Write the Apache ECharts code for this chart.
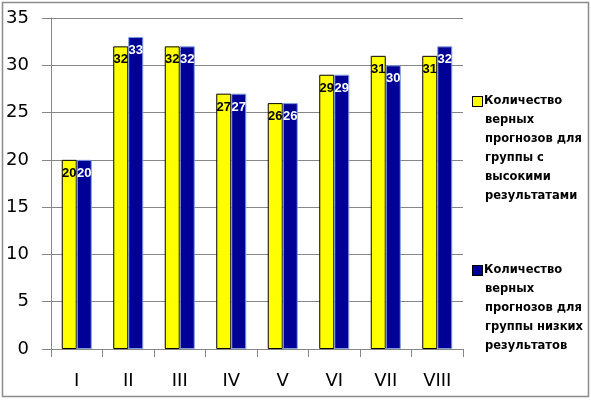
<!DOCTYPE html>
<html>
<head>
<meta charset="utf-8">
<script src="https://cdn.jsdelivr.net/npm/echarts@6/dist/echarts.min.js"></script>
<style>
  html, body { margin: 0; padding: 0; background: #fff; }
  #main { width: 591px; height: 400px; }
</style>
</head>
<body>
<div id="main"></div>
<script>
var categories = ['I', 'II', 'III', 'IV', 'V', 'VI', 'VII', 'VIII'];
var highGroup = [20, 32, 32, 27, 26, 29, 31, 31];
var lowGroup = [20, 33, 32, 27, 26, 29, 30, 32];
var seriesNames = [
    'Количество верных прогнозов для группы с высокими результатами',
    'Количество верных прогнозов для группы низких результатов'
];
var legendLines = [
    ['Количество', 'верных', 'прогнозов для', 'группы с', 'высокими', 'результатами'],
    ['Количество', 'верных', 'прогнозов для', 'группы низких', 'результатов']
];

var chartDom = document.getElementById('main');
var myChart = echarts.init(chartDom);
var option;

// legend text wrapped by hand, square drawn as rich text on the first line
function legendText(name) {
    var i = seriesNames.indexOf(name);
    var lines = legendLines[i];
    var out = [];
    for (var k = 0; k < lines.length; k++) {
        if (k === 0) {
            out.push('{sq' + i + '|}{t|' + lines[k] + '}');
        } else {
            out.push('{sp|}{t|' + lines[k] + '}');
        }
    }
    return out.join('\n');
}

option = {
    animation: false,
    textStyle: { fontFamily: 'DejaVu Sans' },
    graphic: [{
        type: 'rect',
        shape: { x: 2.5, y: 2.5, width: 586, height: 394 },
        style: { fill: 'none', stroke: '#8c8c8c', lineWidth: 1.5 },
        silent: true
    }],
    grid: { left: 51, right: 128, top: 18, bottom: 51 },
    legend: {
        orient: 'vertical',
        left: 467,
        top: 92,
        itemGap: 55,
        itemWidth: 0,
        itemHeight: 0,
        padding: 0,
        selectedMode: false,
        data: seriesNames,
        formatter: legendText,
        textStyle: {
            fontFamily: 'DejaVu Sans',
            fontSize: 11.5,
            fontWeight: 'bold',
            color: '#000',
            lineHeight: 19,
            rich: {
                sq0: { width: 9, height: 9, backgroundColor: '#ffff00', borderColor: '#000', borderWidth: 1 },
                sq1: { width: 9, height: 9, backgroundColor: '#000096', borderColor: '#000', borderWidth: 1 },
                sp: { width: 10 },
                t: { fontFamily: 'DejaVu Sans', fontSize: 11.5, fontWeight: 'bold', color: '#000', lineHeight: 19, padding: [0, 0, 0, 2] }
            }
        }
    },
    xAxis: {
        type: 'category',
        data: categories,
        axisLine: { lineStyle: { color: '#868686', width: 1 } },
        axisTick: { show: true, length: 8, lineStyle: { color: '#868686' } },
        axisLabel: { color: '#000', fontSize: 18, fontFamily: 'DejaVu Sans', margin: 23 },
        splitLine: { show: false }
    },
    yAxis: {
        type: 'value',
        min: 0,
        max: 35,
        interval: 5,
        axisLine: { show: true, lineStyle: { color: '#868686', width: 1 } },
        axisTick: { show: true, length: 9, lineStyle: { color: '#868686' } },
        axisLabel: { color: '#000', fontSize: 18, fontFamily: 'DejaVu Sans', margin: 22 },
        splitLine: { show: true, lineStyle: { color: '#868686', width: 1 } }
    },
    series: [
        {
            name: seriesNames[0],
            type: 'bar',
            data: highGroup,
            barWidth: 15,
            barGap: '0%',
            itemStyle: { color: '#ffff00', borderColor: '#000', borderWidth: 1 },
            label: {
                show: true,
                position: 'insideTop',
                distance: 7,
                color: '#000',
                fontFamily: 'Liberation Sans',
                fontWeight: 'bold',
                fontSize: 13
            }
        },
        {
            name: seriesNames[1],
            type: 'bar',
            data: lowGroup,
            barWidth: 15,
            barGap: '0%',
            itemStyle: { color: '#000096', borderColor: '#7f9fdf', borderWidth: 1 },
            label: {
                show: true,
                position: 'insideTop',
                distance: 7,
                color: '#fff',
                fontFamily: 'Liberation Sans',
                fontWeight: 'bold',
                fontSize: 13
            }
        }
    ]
};

option && myChart.setOption(option);
</script>
</body>
</html>
